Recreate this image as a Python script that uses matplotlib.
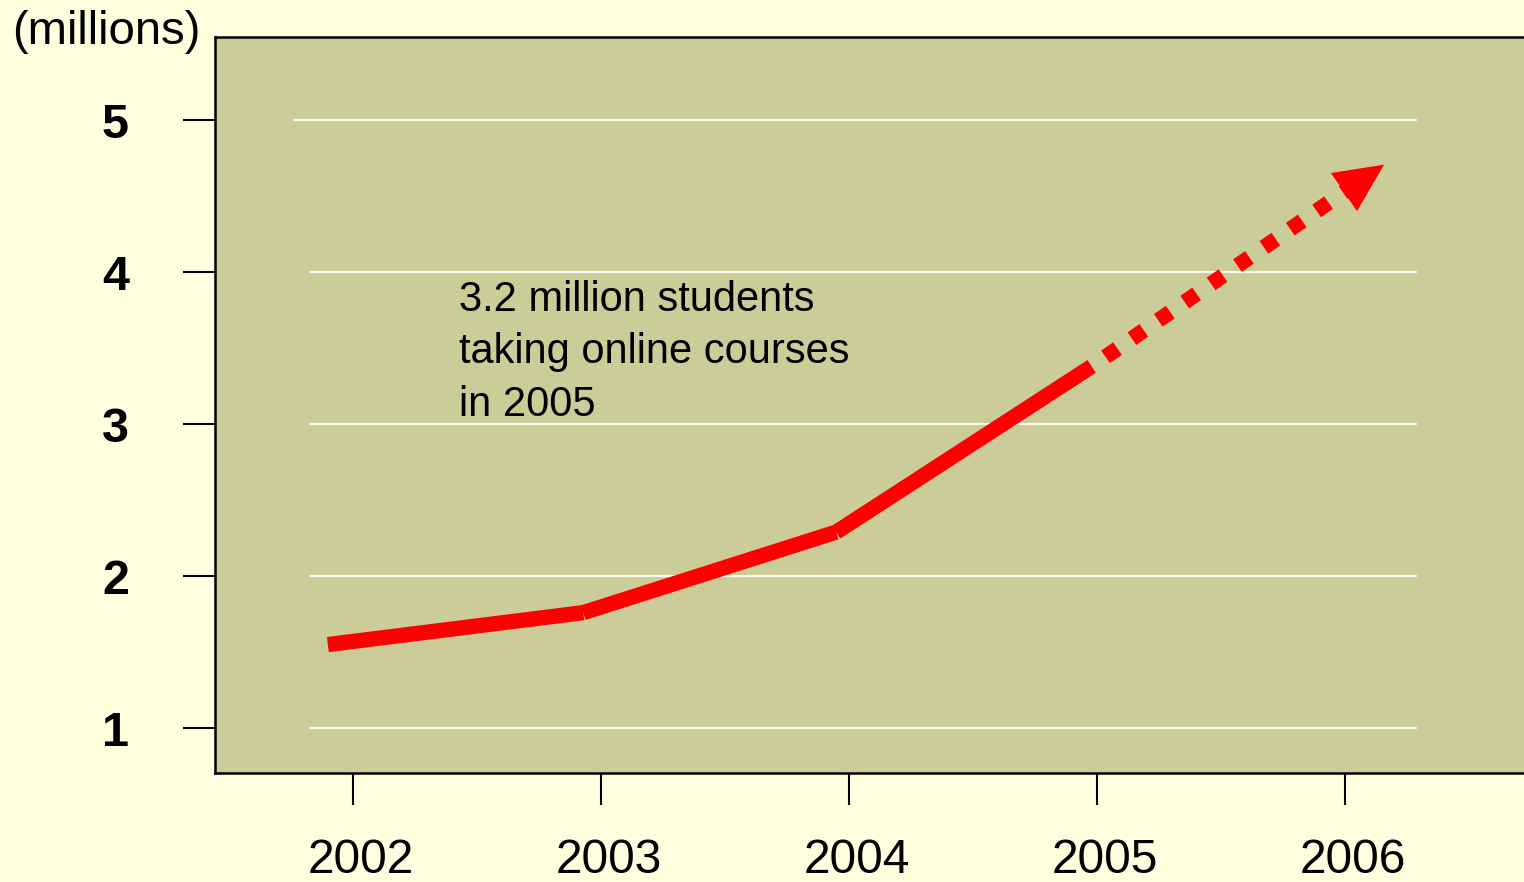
import matplotlib
matplotlib.use("Agg")
import matplotlib.pyplot as plt
from matplotlib.transforms import ScaledTranslation

# ---- data ----
years = [2002, 2003, 2004, 2005, 2006]
year_labels = ["2002", "2003", "2004", "2005", "2006"]
y_ticks = [1, 2, 3, 4, 5]
y_labels = ["1", "2", "3", "4", "5"]

actual_x = [2001.9, 2002.93, 2003.95, 2004.98]
actual_y = [1.55, 1.76, 2.29, 3.38]
proj_x = [2004.98, 2006.0]
proj_y = [3.38, 4.53]

note = "3.2 million students\ntaking online courses\nin 2005"

# ---- style ----
plt.rcParams['font.family'] = ['Liberation Sans', 'DejaVu Sans']
BG = '#FFFFE0'
FACE = '#CCCC99'
RED = '#FF0000'

fig = plt.figure(figsize=(15.24, 8.82), dpi=100, facecolor=BG)
ax = fig.add_axes([0.14108, 0.12358, 0.8589, 0.83447])
ax.set_facecolor(FACE)
ax.set_xlim(2001.445, 2006.723)
ax.set_ylim(0.705, 5.547)

# grid lines (partial width, white)
for yv in y_ticks:
    x0 = 0.0604 if yv == max(y_ticks) else 0.0726
    ax.axhline(yv, xmin=x0, xmax=0.9175, color='white', lw=1.3, zorder=1)

# actual series: separate thick segments
for i in range(len(actual_x) - 1):
    ax.plot(actual_x[i:i + 2], actual_y[i:i + 2], color=RED, lw=11,
            solid_capstyle='butt', zorder=3)

# projection: dashed line with arrow head
ax.plot(proj_x, proj_y, color=RED, lw=11, linestyle=(1.0, (0.95, 1.15)),
        dash_capstyle='butt', zorder=3)
ax.annotate('', xy=(proj_x[-1], proj_y[-1]), xytext=(28.4, 19.4),
            textcoords='offset points',
            arrowprops=dict(arrowstyle='<|-,head_length=3.5,head_width=1.66',
                            color=RED, lw=0, shrinkA=0, shrinkB=0,
                            mutation_scale=10),
            zorder=4)

# annotation text
ax.text(0.1864, 0.6698, note, transform=ax.transAxes, ha='left', va='top',
        fontsize=30, color='black', linespacing=1.40, zorder=5)

# axis label
fig.text(106 / 1524, 1 - 44 / 882, "(millions)", ha='center', va='baseline',
         fontsize=34, color='black')

# ticks
ax.set_xticks(years)
ax.set_xticklabels(year_labels, fontsize=34.5)
ax.set_yticks(y_ticks)
ax.set_yticklabels(y_labels, fontsize=35, fontweight='bold')
ax.tick_params(axis='x', direction='out', length=23, width=1.5, pad=24,
               colors='black')
ax.tick_params(axis='y', direction='out', length=23, width=1.5, pad=39,
               colors='black')
off = ScaledTranslation(8 / 100, 0, fig.dpi_scale_trans)
for lab in ax.get_xticklabels():
    lab.set_transform(lab.get_transform() + off)

for side in ['left', 'bottom', 'top']:
    ax.spines[side].set_linewidth(1.8)
    ax.spines[side].set_color('black')
ax.spines['right'].set_visible(False)

fig.savefig('out.png', dpi=100, facecolor=BG)
